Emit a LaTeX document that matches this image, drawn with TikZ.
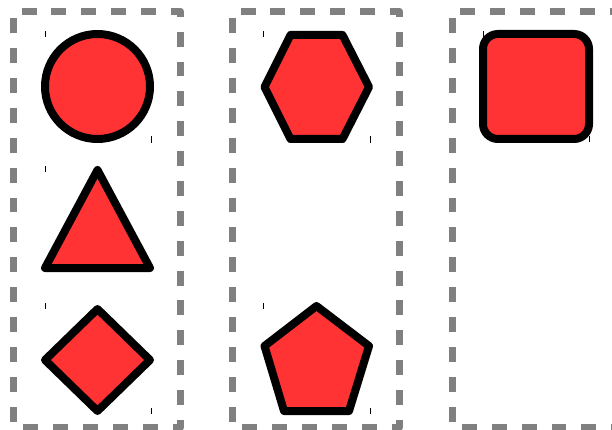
\documentclass[tikz,border=0pt]{standalone}
\definecolor{shapered}{RGB}{255,51,51}
\definecolor{boxgray}{RGB}{128,128,128}
\begin{document}
\begin{tikzpicture}[x=1pt,y=-1pt,
  shapestyle/.style={fill=shapered,draw=black,line width=8pt,line join=round},
  boxstyle/.style={draw=boxgray,line width=7pt,line join=round,dash pattern=on 14.936pt off 14.936pt,dash phase=21.97pt},
  tickmark/.style={draw=black,line width=0.8pt}]
\useasboundingbox (0,0) rectangle (612,430);
\clip (0,0) rectangle (612,430);
% dashed column frames
\foreach \ox in {0,219,438.7} {
  \draw[boxstyle] (13.7+\ox,11.3) -- (180.5+\ox,11.3) -- (180.5+\ox,427) -- (13.7+\ox,427) -- cycle;
}
% small corner ticks
\foreach \tx/\ty in {45/34, 151/139.5, 45/169, 150/268, 45/306, 151/411,
                     263/34, 370/139.5, 263/306, 370/411, 483/34, 589/139} {
  \draw[tickmark] (\tx,\ty-3.2) -- (\tx,\ty+3.2);
}
% column 1
\draw[shapestyle] (97.5,86.5) circle[radius=52.5];
\draw[shapestyle] (97.5,170) -- (150,268) -- (45,268) -- cycle;
\draw[shapestyle] (97.5,309) -- (150,360) -- (97.5,411) -- (45,360) -- cycle;
% column 2
\draw[shapestyle] (264.5,87) -- (290.5,35) -- (342.5,35) -- (369,87) -- (342.5,139) -- (290.5,139) -- cycle;
\draw[shapestyle] (316.5,306) -- (369,346) -- (349,411) -- (284,411) -- (264.5,346) -- cycle;
% column 3
\draw[shapestyle,rounded corners=15pt] (483,34) rectangle (589,139);
\end{tikzpicture}
\end{document}
